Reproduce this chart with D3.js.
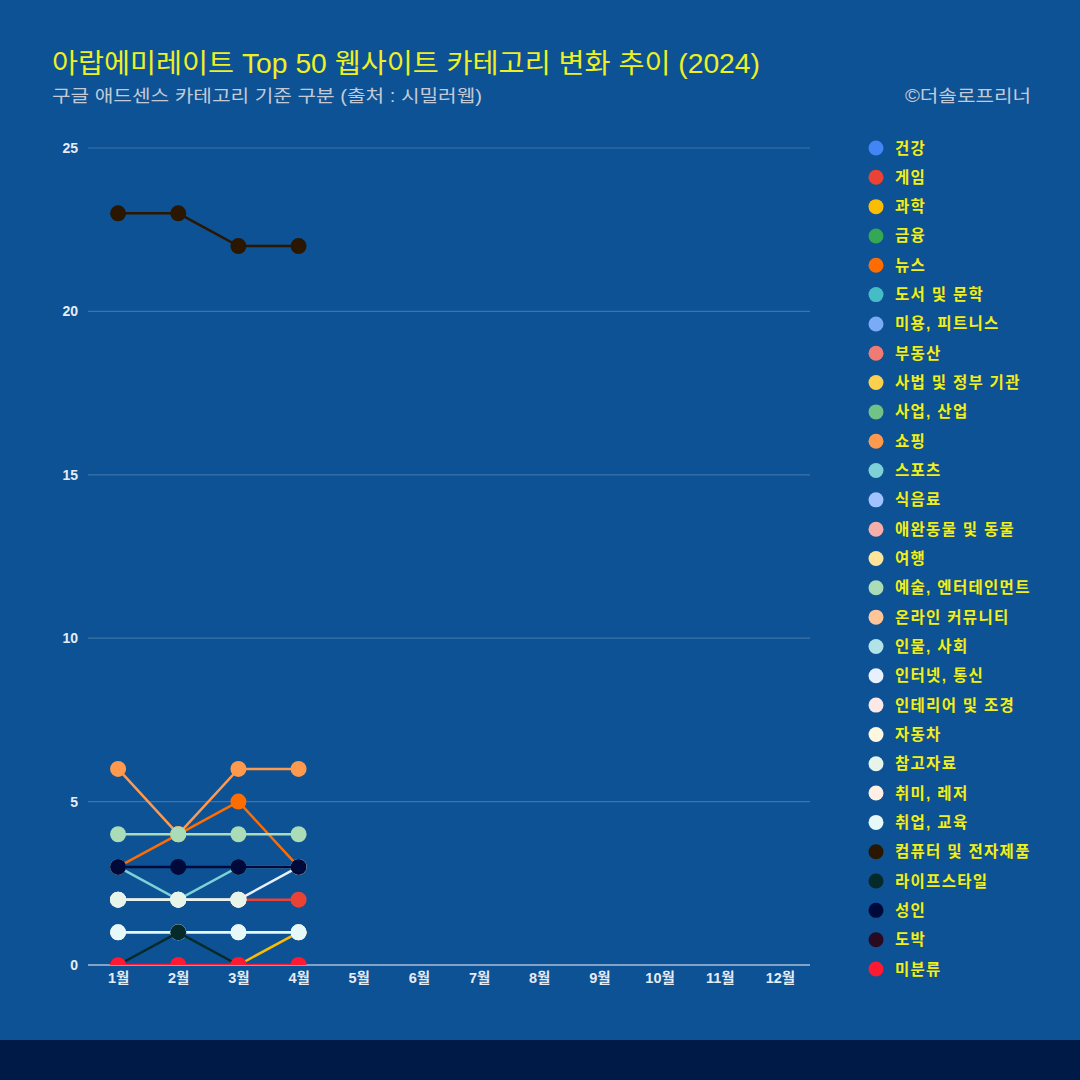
<!DOCTYPE html>
<html><head><meta charset="utf-8">
<script src="https://cdn.jsdelivr.net/npm/d3@7"></script>
<style>
html,body{margin:0;padding:0;background:#0d5294;}
svg{display:block;}
text{font-family:"Liberation Sans","Noto Sans CJK KR",Arial,sans-serif;}
</style></head>
<body>
<svg id="chart" width="1080" height="1080"></svg>
<script>
const months = ["1월","2월","3월","4월","5월","6월","7월","8월","9월","10월","11월","12월"];
const categories = ["건강","게임","과학","금융","뉴스","도서 및 문학","미용, 피트니스","부동산","사법 및 정부 기관","사업, 산업","쇼핑","스포츠","식음료","애완동물 및 동물","여행","예술, 엔터테인먼트","온라인 커뮤니티","인물, 사회","인터넷, 통신","인테리어 및 조경","자동차","참고자료","취미, 레저","취업, 교육","컴퓨터 및 전자제품","라이프스타일","성인","도박","미분류"];
const colors = ["#4285f4","#ea4335","#fbbc04","#34a853","#ff6d01","#46bdc6","#7baaf7","#f07b72","#fcd04f","#71c287","#ff994d","#7ed1d7","#a0c3ff","#f6aea9","#fde49b","#aadcb7","#ffc599","#b2e3e6","#e8f0fe","#fce8e6","#fef7e0","#e6f4ea","#ffefe4","#e7f8f9","#2b1700","#062a2a","#000a3a","#2a0a20","#ff1a33"];
// values per category, months 1-4 (null = not in chart)
const values = {
  "게임": [null,null,2,2],
  "과학": [null,null,0,1],
  "뉴스": [3,4,5,3],
  "쇼핑": [6,4,6,6],
  "스포츠": [3,2,3,3],
  "예술, 엔터테인먼트": [4,4,4,4],
  "인터넷, 통신": [2,2,2,3],
  "인테리어 및 조경": [2,2,2,null],
  "참고자료": [2,2,2,null],
  "자동차": [1,1,1,1],
  "취업, 교육": [1,1,1,1],
  "컴퓨터 및 전자제품": [23,23,22,22],
  "라이프스타일": [0,1,0,null],
  "성인": [3,3,3,3],
  "미분류": [0,0,0,0]
};
const yTicks = [0,5,10,15,20,25];

const svg = d3.select("#chart");
svg.append("rect").attr("x",0).attr("y",0).attr("width",1080).attr("height",1080).attr("fill","#0d5294");
svg.append("rect").attr("x",0).attr("y",1040).attr("width",1080).attr("height",40).attr("fill","#001a48");

svg.append("text").attr("x",52).attr("y",73).attr("fill","#eef022").attr("font-size",27)
  .attr("textLength",708).attr("lengthAdjust","spacingAndGlyphs")
  .text("아랍에미레이트 Top 50 웹사이트 카테고리 변화 추이 (2024)");
svg.append("text").attr("x",52).attr("y",102).attr("fill","#c3cad6").attr("font-size",17.5)
  .attr("textLength",430).attr("lengthAdjust","spacingAndGlyphs")
  .text("구글 애드센스 카테고리 기준 구분 (출처 : 시밀러웹)");
svg.append("text").attr("x",905).attr("y",102).attr("fill","#c3cad6").attr("font-size",17.5)
  .attr("textLength",126).attr("lengthAdjust","spacingAndGlyphs")
  .text("©더솔로프리너");

const L = 88, R = 810, T = 148, B = 965;
const x = d3.scalePoint().domain(months).range([L,R]).padding(0.5);
const y = d3.scaleLinear().domain([0,25]).range([B,T]);

// grid
const grid = svg.append("g");
grid.selectAll("line").data(yTicks.filter(d=>d>0)).join("line")
  .attr("x1",L).attr("x2",R).attr("y1",d=>y(d)).attr("y2",d=>y(d))
  .attr("stroke","#ffffff").attr("stroke-opacity",0.2).attr("stroke-width",1.2);

// y axis labels
const yAxis = svg.append("g").attr("transform",`translate(${L},0)`)
  .call(d3.axisLeft(y).tickValues(yTicks).tickSize(0).tickPadding(10));
yAxis.select(".domain").remove();
yAxis.selectAll("text").attr("fill","#e6ecf4").attr("font-size",14).attr("font-weight","bold")
  .attr("font-family","'Liberation Sans','Noto Sans CJK KR',sans-serif");

// x axis
const xAxis = svg.append("g").attr("transform",`translate(0,${B})`)
  .call(d3.axisBottom(x).tickSize(0).tickPadding(8));
xAxis.select(".domain").attr("stroke","#a9bfdc").attr("stroke-width",1.5).attr("d",`M${L},0H${R}`);
xAxis.selectAll("text").attr("fill","#e6ecf4").attr("font-size",14.5).attr("font-weight","bold")
  .attr("font-family","'Liberation Sans','Noto Sans CJK KR',sans-serif");

svg.append("defs").append("clipPath").attr("id","plotclip")
  .append("rect").attr("x",L-20).attr("y",T-20).attr("width",R-L+40).attr("height",B-T+20);

const plot = svg.append("g").attr("clip-path","url(#plotclip)");
const line = d3.line().defined(d=>d.v!==null).x(d=>x(d.m)).y(d=>y(d.v));

categories.forEach((c,i)=>{
  const vals = values[c];
  if(!vals) return;
  const pts = vals.map((v,j)=>({m:months[j],v:v}));
  const g = plot.append("g");
  g.append("path").datum(pts).attr("d",line).attr("fill","none")
    .attr("stroke",colors[i]).attr("stroke-width",2.5);
  g.selectAll("circle").data(pts.filter(d=>d.v!==null)).join("circle")
    .attr("cx",d=>x(d.m)).attr("cy",d=>y(d.v)).attr("r",8).attr("fill",colors[i]);
});

// legend
const lg = svg.append("g");
const rowH = (969-148)/28;
categories.forEach((c,i)=>{
  const yy = 148 + i*rowH;
  lg.append("circle").attr("cx",876).attr("cy",yy).attr("r",7.5).attr("fill",colors[i]);
  lg.append("text").attr("x",895).attr("y",yy+5.5).attr("fill","#eef022").attr("font-size",15.5)
    .attr("letter-spacing",1.3).attr("font-weight","bold")
    .attr("stroke","#3a4a20").attr("stroke-width",0.4).attr("paint-order","stroke")
    .text(c);
});
</script>
</body></html>
